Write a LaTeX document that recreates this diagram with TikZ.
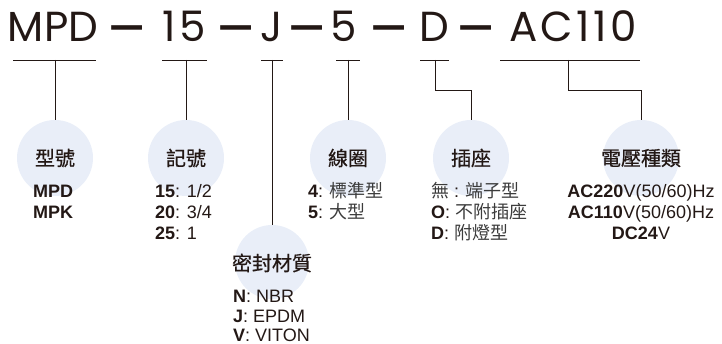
\documentclass[tikz,border=0pt]{standalone}
\usepackage{fontspec}
\setmainfont{Liberation Sans}
\newfontfamily\topfont{Poppins}
\newfontfamily\topfontw[LetterSpace=8]{Poppins}
\newfontfamily\cjk{Noto Sans CJK TC}
\newfontfamily\cjkb[FakeBold=0.6]{Noto Sans CJK TC}
\definecolor{ink}{HTML}{231815}
\definecolor{bub}{HTML}{E9EEF8}
\definecolor{cjkgray}{HTML}{3C3C3C}
\tikzset{
  top/.style={anchor=base, inner sep=0pt, text=ink, font=\topfont\fontsize{42}{42}\selectfont},
  topw/.style={anchor=base, inner sep=0pt, text=ink, font=\topfontw\fontsize{42}{42}\selectfont},
  bubble/.style={circle, fill=bub, draw=none, minimum size=76pt, inner sep=0pt},
  lbl/.style={inner sep=0pt, text=ink, font=\cjkb\fontsize{20}{20}\selectfont},
  val/.style={anchor=base west, inner sep=0pt, text=ink, font=\fontsize{18}{21}\selectfont},
  valc/.style={anchor=base, inner sep=0pt, text=ink, font=\fontsize{18}{21}\selectfont},
  conn/.style={draw=ink, line width=0.9pt},
}
\newcommand{\cj}[1]{{\cjk\color{cjkgray}#1}}
\newcommand{\dsh}{\raisebox{-7.5pt}{\scalebox{1}[1.4]{—}}}
\begin{document}
\begin{tikzpicture}[x=1pt,y=-1pt]
\useasboundingbox (0,0) rectangle (722,344);
% top code
\node[top] (tMPD) at (53,42) {MPD};
\node[top] (d1) at (127,42) {\dsh};
\node[topw] (t15) at (184,42) {15};
\node[top] (d2) at (236,42) {\dsh};
\node[top] (tJ) at (272,42) {J};
\node[top] (d3) at (307,42) {\dsh};
\node[top] (t5) at (344,42) {5};
\node[top] (d4) at (389,42) {\dsh};
\node[top] (tD) at (434,42) {D};
\node[top] (d5) at (476,42) {\dsh};
\node[topw] (tAC) at (573,42) {AC110};
% bubbles
\node[bubble] (c1) at (55,158) {};
\node[bubble] (c2) at (186,158) {};
\node[bubble] (c3) at (348,158) {};
\node[bubble] (c4) at (471,158) {};
\node[bubble] (c5) at (641,158) {};
\node[bubble, minimum size=74pt] (c6) at (272,262) {};
% underline coordinates
\coordinate (u1l) at (13,60); \coordinate (u1r) at (96,60); \coordinate (u1m) at (55,60);
\coordinate (u2l) at (162,60); \coordinate (u2r) at (207,60); \coordinate (u2m) at (186,60);
\coordinate (u3l) at (261,60); \coordinate (u3r) at (283,60); \coordinate (u3m) at (272,60);
\coordinate (u4l) at (336,60); \coordinate (u4r) at (360,60); \coordinate (u4m) at (348,60);
\coordinate (u5l) at (420,60); \coordinate (u5r) at (449,60); \coordinate (u5m) at (435,60);
\coordinate (u6l) at (500,60); \coordinate (u6r) at (640,60); \coordinate (u6m) at (568,60);
\coordinate (k5) at (435,90); \coordinate (k6) at (568,90);
\draw[conn] (u1l) -- (u1r); \draw[conn] (u1m) -- (c1.north);
\draw[conn] (u2l) -- (u2r); \draw[conn] (u2m) -- (c2.north);
\draw[conn] (u3l) -- (u3r); \draw[conn] (u3m) -- (c6.north);
\draw[conn] (u4l) -- (u4r); \draw[conn] (u4m) -- (c3.north);
\draw[conn] (u5l) -- (u5r); \draw[conn] (u5m) -- (k5) -| (c4.north);
\draw[conn] (u6l) -- (u6r); \draw[conn] (u6m) -- (k6) -| (c5.north);
% labels
\node[lbl] (l1) at (c1) {型號};
\node[lbl] (l2) at (c2) {記號};
\node[lbl] (l3) at (c3) {線圈};
\node[lbl] (l4) at (c4) {插座};
\node[lbl] (l5) at (c5) {電壓種類};
\node[lbl] (l6) at (272,263) {密封材質};
% values
\node[val] (v1a) at (33,198) {\textbf{MPD}};
\node[val] (v1b) at (33,219) {\textbf{MPK}};
\node[val] (v2a) at (155,198) {\textbf{15}: 1/2};
\node[val] (v2b) at (155,219) {\textbf{20}: 3/4};
\node[val] (v2c) at (155,240) {\textbf{25}: 1};
\node[val] (v3a) at (308,198) {\textbf{4}: \cj{標準型}};
\node[val] (v3b) at (308,219) {\textbf{5}: \cj{大型}};
\node[val] (v4a) at (431,198) {\cj{無} : \cj{端子型}};
\node[val] (v4b) at (431,219) {\textbf{O}: \cj{不附插座}};
\node[val] (v4c) at (431,240) {\textbf{D}: \cj{附燈型}};
\node[valc] (v5a) at (641,198) {\textbf{AC220}V(50/60)Hz};
\node[valc] (v5b) at (641,219) {\textbf{AC110}V(50/60)Hz};
\node[valc] (v5c) at (641,240) {\textbf{DC24}V};
\node[val] (v6a) at (233,302) {\textbf{N}: NBR};
\node[val] (v6b) at (233,323) {\textbf{J}: EPDM};
\node[val] (v6c) at (233,341) {\textbf{V}: VITON};
\end{tikzpicture}
\end{document}
